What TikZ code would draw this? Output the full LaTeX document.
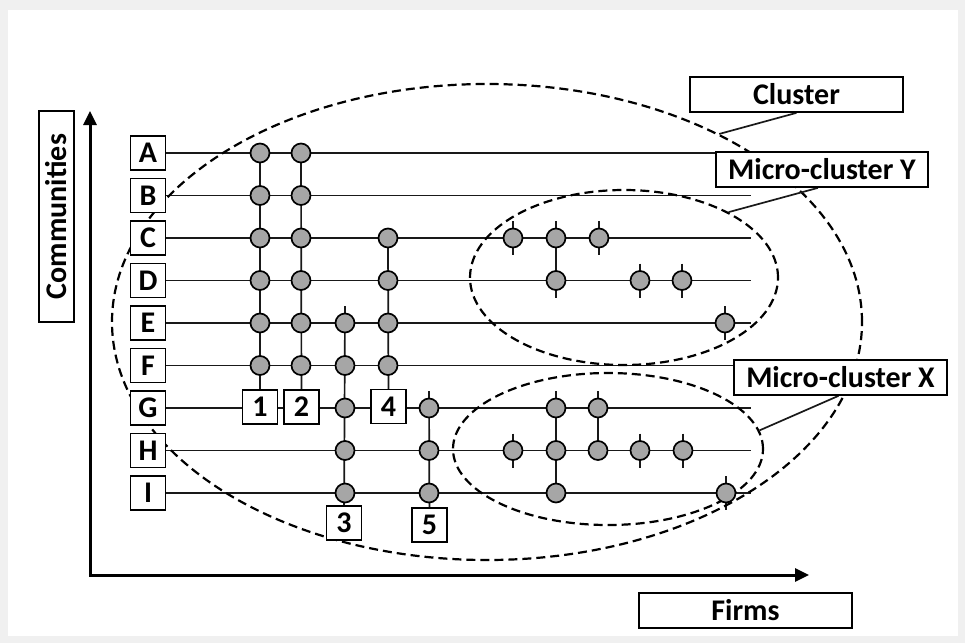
\documentclass[tikz,border=0pt]{standalone}
\usepackage{fontspec}
\setmainfont{Carlito}
\usetikzlibrary{arrows.meta,shapes.geometric}
\definecolor{dotgray}{HTML}{A6A6A6}
\definecolor{framegray}{HTML}{F0F0F0}
\pgfdeclarelayer{backdrop}
\pgfdeclarelayer{wires}
\pgfsetlayers{backdrop,wires,main}
% row heights of the communities
\def\yA{153}\def\yB{195.5}\def\yC{238}\def\yD{280.5}\def\yE{323}
\def\yF{365.5}\def\yG{408}\def\yH{450.5}\def\yI{493}
\newcommand{\tickup}[1]{\draw[conn] (#1.center) -- ([yshift=17pt]#1.center);}
\newcommand{\tickdn}[1]{\draw[conn] (#1.center) -- ([yshift=-17pt]#1.center);}
\newcommand{\tickud}[1]{\draw[conn] ([yshift=17pt]#1.center) -- ([yshift=-17pt]#1.center);}
\begin{document}
\begin{tikzpicture}[x=1pt,y=-1pt,
  txt/.style={font=\bfseries\fontsize{30}{34}\selectfont},
  lbl/.style={txt, draw, line width=1.7pt, fill=white, inner sep=0pt,
    minimum width=35pt, minimum height=34pt},
  tag/.style={txt, draw, line width=1.7pt, fill=white, inner sep=0pt,
    minimum width=213pt, minimum height=35pt},
  dot/.style={circle, draw=black, line width=1.7pt, fill=dotgray,
    inner sep=0pt, minimum size=19pt},
  conn/.style={line width=1.7pt, draw=black!90},
  grp/.style={ellipse, draw, line width=2.2pt, dash pattern=on 9pt off 5pt,
    inner sep=0pt},
  axis/.style={line width=3pt,
    {Triangle[length=14pt,width=13pt]}-{Triangle[length=14pt,width=13pt]}},
]
% frame
\begin{pgfonlayer}{backdrop}
  \fill[framegray] (0,0) rectangle (965,643);
  \fill[white] (8,10) rectangle (958,636);
\end{pgfonlayer}

% axis titles
\node[lbl, rotate=90, minimum width=211pt, minimum height=35pt] (comm) at (56.5,216.5) {Communities};
\node[tag] (firms) at (745.5,610.5) {Firms};

% community labels and row ends
\foreach \r in {A,B,C,D,E,F,G,H,I}{
  \node[lbl] (\r) at (148,\csname y\r\endcsname) {\r};
  \coordinate (\r end) at (751,\csname y\r\endcsname);
}

% firms 1 to 5
\foreach \r in {A,B,C,D,E,F}{
  \node[dot] (f1\r) at (260,\csname y\r\endcsname) {};
  \node[dot] (f2\r) at (301,\csname y\r\endcsname) {};
}
\foreach \r in {E,F,G,H,I}{\node[dot] (f3\r) at (345,\csname y\r\endcsname) {};}
\foreach \r in {C,D,E,F}{\node[dot] (f4\r) at (388,\csname y\r\endcsname) {};}
\foreach \r in {G,H,I}{\node[dot] (f5\r) at (429,\csname y\r\endcsname) {};}
\node[lbl] (b1) at (260,407) {1};
\node[lbl] (b2) at (301.5,407) {2};
\node[lbl] (b3) at (344,523) {3};
\node[lbl] (b4) at (388.5,406.5) {4};
\node[lbl] (b5) at (429.5,525) {5};

% micro-cluster Y members
\node[dot] (y1) at (513,\yC) {};
\node[dot] (y2) at (556,\yC) {};
\node[dot] (y3) at (599,\yC) {};
\node[dot] (y4) at (556,\yD) {};
\node[dot] (y5) at (640,\yD) {};
\node[dot] (y6) at (682,\yD) {};
\node[dot] (y7) at (725,\yE) {};

% micro-cluster X members
\node[dot] (x1) at (556,\yG) {};
\node[dot] (x2) at (598,\yG) {};
\node[dot] (x3) at (513,\yH) {};
\node[dot] (x4) at (556,\yH) {};
\node[dot] (x5) at (598,\yH) {};
\node[dot] (x6) at (640,\yH) {};
\node[dot] (x7) at (683,\yH) {};
\node[dot] (x8) at (556,\yI) {};
\node[dot] (x9) at (726,\yI) {};

% callout labels
\node[tag] (clu) at (796.5,94.5) {Cluster};
\node[tag, minimum width=212pt] (mcy) at (822,169.5) {Micro-cluster Y};
\node[tag] (mcx) at (840.5,377.5) {Micro-cluster X};

\begin{pgfonlayer}{wires}
  % axes
  \coordinate (O) at (90,575);
  \coordinate (ytop) at (90,111);
  \coordinate (xend) at (809,575);
  \draw[axis] (ytop) -- (O) -- (xend);

  % community rows
  \foreach \r in {A,B,C,D,E,F,G,H,I}{\draw[conn] (\r.east) -- (\r end);}

  % firm links
  \draw[conn] (f1A.center) -- (b1.center);
  \draw[conn] (f2A.center) -- (b2.center);
  \draw[conn] ([yshift=17pt]f3E.center) -- (b3.center);
  \draw[conn] (f4C.center) -- (b4.center);
  \draw[conn] ([yshift=17pt]f5G.center) -- (b5.center);

  % micro-cluster Y links and ticks
  \tickud{y1}
  \draw[conn] ([yshift=17pt]y2.center) -- ([yshift=-17pt]y4.center);
  \tickud{y3}
  \tickud{y5}
  \tickud{y6}
  \tickud{y7}

  % micro-cluster X links and ticks
  \draw[conn] ([yshift=17pt]x1.center) -- (x8.center);
  \draw[conn] ([yshift=17pt]x2.center) -- (x5.center);
  \tickud{x3}
  \tickud{x6}
  \tickud{x7}
  \tickud{x9}

  % groupings
  \node[grp, minimum width=750pt, minimum height=476pt] (cl) at (487,322) {};
  \node[grp, minimum width=308pt, minimum height=175pt] (ey) at (624,277.5) {};
  \node[grp, minimum width=310pt, minimum height=152pt] (ex) at (608,449) {};

  % callout leaders
  \draw[conn] (clu.south) -- (cl.39);
  \draw[conn] ([xshift=-4pt]mcy.south) -- (ey.32);
  \draw[conn] ([xshift=-2pt]mcx.south) -- (ex.7);
\end{pgfonlayer}
\end{tikzpicture}
\end{document}
